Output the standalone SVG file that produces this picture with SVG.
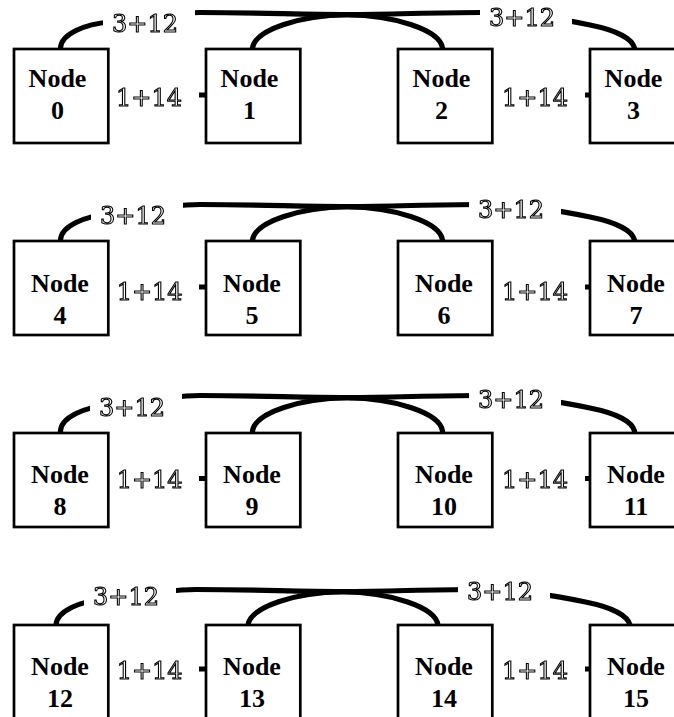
<svg xmlns="http://www.w3.org/2000/svg" width="674" height="717" viewBox="0 0 674 717">
<style>
.bg{fill:#fff}
.node rect{fill:#fff;stroke:#000;stroke-width:2.7}
.node text{font-family:"Liberation Serif","Times New Roman",serif;font-weight:bold;font-size:26px;text-anchor:middle;fill:#000}
.edge{fill:none;stroke:#000;stroke-width:5.2}
.lbl rect{fill:#fff}
.lbl text{font-family:"DejaVu Serif",serif;font-size:24px;fill:#fff;stroke:#000;stroke-width:1.1}
</style>
<defs>
<filter id="gray" x="0" y="0" width="1" height="1"><feOffset dx="0" dy="0"/></filter>
</defs>
<rect class="bg" x="0" y="0" width="674" height="717"/>
<g id="connectors">
<g transform="translate(0,0)">
<path class="edge" d="M60.5,50 L60.5,48 C61,34 85,24 110,22 C140,18 170,13 200,12.5 C260,12.5 300,14.5 347,14.5 C394,14.5 430,12.5 480,12.5 C530,13 560,19 590,25 C615,30 632,38 634.5,48 L634.5,50"/>
<path class="edge" d="M252.5,50 L252.5,48 C255,30 300,15 347,15 C394,15 440,30 442.5,48 L442.5,50"/>
</g>
<g transform="translate(0,192)">
<path class="edge" d="M60.5,50 L60.5,48 C61,34 85,24 110,22 C140,18 170,13 200,12.5 C260,12.5 300,14.5 347,14.5 C394,14.5 430,12.5 480,12.5 C530,13 560,19 590,25 C615,30 632,38 634.5,48 L634.5,50"/>
<path class="edge" d="M252.5,50 L252.5,48 C255,30 300,15 347,15 C394,15 440,30 442.5,48 L442.5,50"/>
</g>
<g transform="translate(0,383)">
<path class="edge" d="M60.5,50 L60.5,48 C61,34 85,24 110,22 C140,18 170,13 200,12.5 C260,12.5 300,14.5 347,14.5 C394,14.5 430,12.5 480,12.5 C530,13 560,19 590,25 C615,30 632,38 634.5,48 L634.5,50"/>
<path class="edge" d="M252.5,50 L252.5,48 C255,30 300,15 347,15 C394,15 440,30 442.5,48 L442.5,50"/>
</g>
<g transform="translate(-4.5,577)">
<path class="edge" d="M60.5,50 L60.5,48 C61,34 85,24 110,22 C140,18 170,13 200,12.5 C260,12.5 300,14.5 347,14.5 C394,14.5 430,12.5 480,12.5 C530,13 560,19 590,25 C615,30 632,38 634.5,48 L634.5,50"/>
<path class="edge" d="M252.5,50 L252.5,48 C255,30 300,15 347,15 C394,15 440,30 442.5,48 L442.5,50"/>
</g>
<path class="edge" d="M108,95 L206,95 M492,95 L590,95"/>
<path class="edge" d="M108,287 L206,287 M492,287 L590,287"/>
<path class="edge" d="M108,478.5 L206,478.5 M492,478.5 L590,478.5"/>
<path class="edge" d="M108,669 L206,669 M492,669 L590,669"/>
<g class="lbl" filter="url(#gray)">
<rect x="103" y="2" width="92" height="34"/><text x="112" y="32">3+12</text>
<rect x="480" y="-4" width="92" height="34"/><text x="489" y="26">3+12</text>
<rect x="107" y="80" width="92" height="32"/><text x="116" y="106">1+14</text>
<rect x="493" y="80" width="92" height="32"/><text x="502" y="106">1+14</text>
<rect x="91" y="194" width="92" height="34"/><text x="100" y="224">3+12</text>
<rect x="469" y="188" width="92" height="34"/><text x="478" y="218">3+12</text>
<rect x="107" y="274" width="92" height="32"/><text x="116.7" y="300">1+14</text>
<rect x="493" y="274" width="92" height="32"/><text x="502" y="300">1+14</text>
<rect x="90" y="386" width="92" height="34"/><text x="99" y="416">3+12</text>
<rect x="469" y="378" width="92" height="34"/><text x="478" y="408">3+12</text>
<rect x="107" y="462" width="92" height="32"/><text x="116.7" y="488">1+14</text>
<rect x="493" y="462" width="92" height="32"/><text x="502" y="488">1+14</text>
<rect x="84" y="575" width="92" height="34"/><text x="93" y="605">3+12</text>
<rect x="458" y="570" width="92" height="34"/><text x="467" y="600">3+12</text>
<rect x="107" y="653" width="92" height="32"/><text x="116.7" y="679">1+14</text>
<rect x="493" y="653" width="92" height="32"/><text x="502" y="679">1+14</text>
</g>
</g>
<g id="node0" class="node"><rect x="14" y="49" width="94.3" height="94"/><text x="57.5" y="87">Node</text><text x="57.5" y="119">0</text></g>
<g id="node1" class="node"><rect x="206" y="49" width="94.3" height="94"/><text x="249.5" y="87">Node</text><text x="249.5" y="119">1</text></g>
<g id="node2" class="node"><rect x="398" y="49" width="94.3" height="94"/><text x="441.5" y="87">Node</text><text x="441.5" y="119">2</text></g>
<g id="node3" class="node"><rect x="590" y="49" width="94.3" height="94"/><text x="633.5" y="87">Node</text><text x="633.5" y="119">3</text></g>
<g id="node4" class="node"><rect x="14" y="241" width="94.3" height="94"/><text x="60" y="292">Node</text><text x="60" y="324">4</text></g>
<g id="node5" class="node"><rect x="206" y="241" width="94.3" height="94"/><text x="252" y="292">Node</text><text x="252" y="324">5</text></g>
<g id="node6" class="node"><rect x="398" y="241" width="94.3" height="94"/><text x="444" y="292">Node</text><text x="444" y="324">6</text></g>
<g id="node7" class="node"><rect x="590" y="241" width="94.3" height="94"/><text x="636" y="292">Node</text><text x="636" y="324">7</text></g>
<g id="node8" class="node"><rect x="14" y="433" width="94.3" height="94"/><text x="60" y="483">Node</text><text x="60" y="515">8</text></g>
<g id="node9" class="node"><rect x="206" y="433" width="94.3" height="94"/><text x="252" y="483">Node</text><text x="252" y="515">9</text></g>
<g id="node10" class="node"><rect x="398" y="433" width="94.3" height="94"/><text x="444" y="483">Node</text><text x="444" y="515">10</text></g>
<g id="node11" class="node"><rect x="590" y="433" width="94.3" height="94"/><text x="636" y="483">Node</text><text x="636" y="515">11</text></g>
<g id="node12" class="node"><rect x="14" y="625" width="94.3" height="94"/><text x="60" y="675">Node</text><text x="60" y="707">12</text></g>
<g id="node13" class="node"><rect x="206" y="625" width="94.3" height="94"/><text x="252" y="675">Node</text><text x="252" y="707">13</text></g>
<g id="node14" class="node"><rect x="398" y="625" width="94.3" height="94"/><text x="444" y="675">Node</text><text x="444" y="707">14</text></g>
<g id="node15" class="node"><rect x="590" y="625" width="94.3" height="94"/><text x="636" y="675">Node</text><text x="636" y="707">15</text></g>
</svg>
